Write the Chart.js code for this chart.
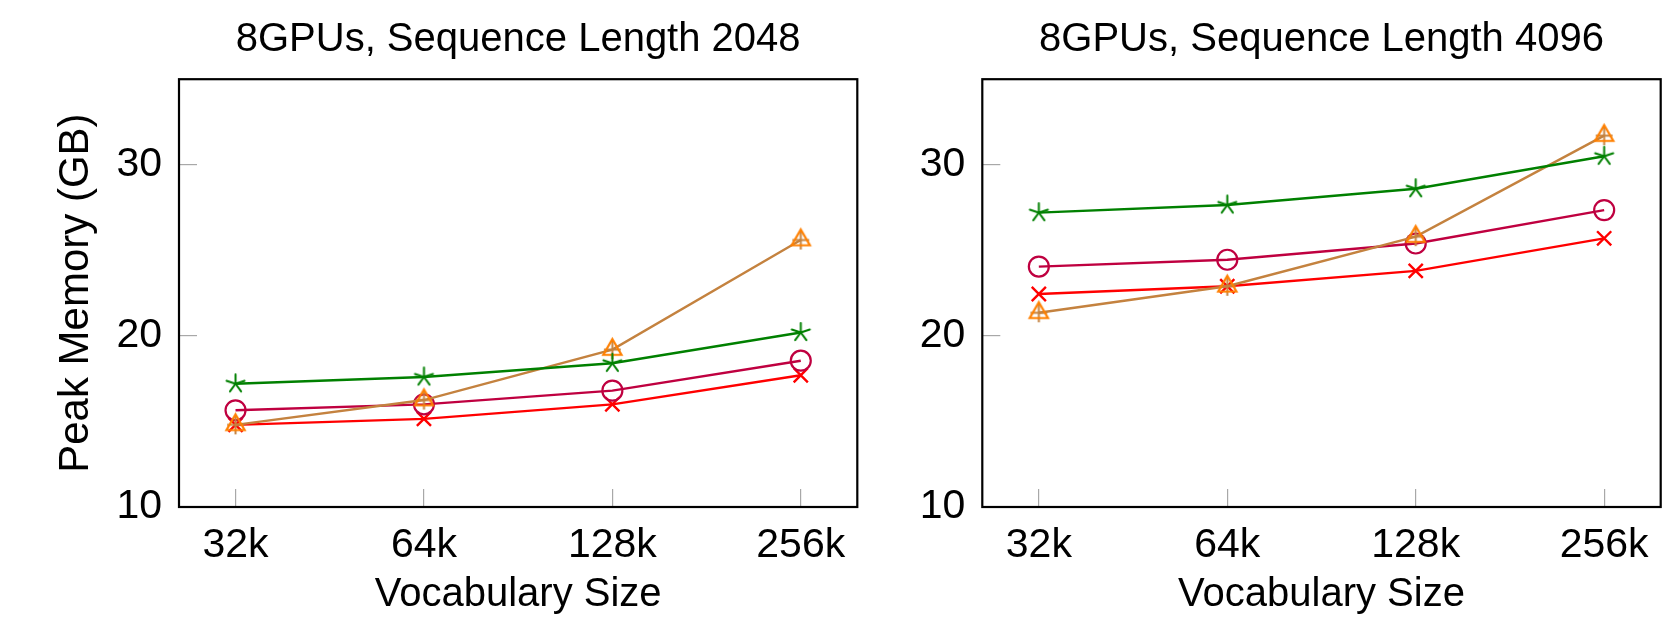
<!DOCTYPE html>
<html>
<head>
<meta charset="utf-8">
<title>Peak Memory vs Vocabulary Size</title>
<script src="https://cdn.jsdelivr.net/npm/chart.js@4/dist/chart.umd.min.js"></script>
<style>
    html, body { margin: 0; padding: 0; background: #ffffff; }
    #wrap { position: relative; width: 1663px; height: 627px; overflow: hidden; }
    .panel { position: absolute; top: 0; height: 627px; }
    #left-panel { left: 0; width: 870px; }
    #right-panel { left: 870px; width: 793px; }
</style>
</head>
<body>
<div id="wrap">
    <div class="panel" id="left-panel"><canvas id="chart-2048" width="870" height="627"></canvas></div>
    <div class="panel" id="right-panel"><canvas id="chart-4096" width="793" height="627"></canvas></div>
</div>
<script>
// === Data ===

const vocabSizes = ['32k', '64k', '128k', '256k'];
const yTicks = [10, 20, 30];

// Sequence length 2048
const green2048 = [17.2, 17.6, 18.4, 20.2];
const orange2048 = [14.8, 16.25, 19.2, 25.6];
const purple2048 = [15.65, 16.0, 16.8, 18.55];
const red2048 = [14.8, 15.15, 16.0, 17.7];

// Sequence length 4096
const green4096 = [27.2, 27.65, 28.6, 30.5];
const orange4096 = [21.35, 22.9, 25.8, 31.7];
const purple4096 = [24.05, 24.45, 25.4, 27.35];
const red4096 = [22.45, 22.9, 23.8, 25.7];

// === Style ===

const FONT = "'Liberation Sans', Arial, sans-serif";
const GREEN = '#008000';
const PURPLE = '#bf0040';
const RED = '#ff0000';
const BROWN = '#c4823f';
const ORANGE = '#ff8000';
const TICK_GRAY = '#a8a8a8';

// === Markers ===

function makeStar(color, r) {
    const size = 2 * r + 4;
    const c = document.createElement('canvas');
    c.width = size;
    c.height = size;
    const ctx = c.getContext('2d');
    ctx.strokeStyle = color;
    ctx.lineWidth = 2;
    ctx.lineCap = 'round';
    const cx = size / 2, cy = size / 2;
    for (let k = 0; k < 5; k++) {
        const a = -Math.PI / 2 + k * 2 * Math.PI / 5;
        ctx.beginPath();
        ctx.moveTo(cx, cy);
        ctx.lineTo(cx + r * Math.cos(a), cy + r * Math.sin(a));
        ctx.stroke();
    }
    return c;
}

function makeTrianglePlus(triColor, plusColor, r) {
    const size = 2 * r + 6;
    const c = document.createElement('canvas');
    c.width = size;
    c.height = size;
    const ctx = c.getContext('2d');
    const cx = size / 2, cy = size / 2;
    // plus
    ctx.strokeStyle = plusColor;
    ctx.lineWidth = 2;
    ctx.beginPath();
    ctx.moveTo(cx - r * 0.8, cy);
    ctx.lineTo(cx + r * 0.8, cy);
    ctx.moveTo(cx, cy - r * 0.8);
    ctx.lineTo(cx, cy + r * 0.9);
    ctx.stroke();
    // triangle
    ctx.strokeStyle = triColor;
    ctx.lineWidth = 2.2;
    ctx.beginPath();
    ctx.moveTo(cx, cy - r);
    ctx.lineTo(cx + 0.866 * r, cy + 0.5 * r);
    ctx.lineTo(cx - 0.866 * r, cy + 0.5 * r);
    ctx.closePath();
    ctx.stroke();
    return c;
}

const starMark = makeStar(GREEN, 9.5);
const triMark = makeTrianglePlus(ORANGE, BROWN, 10.5);

// === Helpers ===

function toPoints(values) {
    return values.map((v, i) => ({ x: i, y: v }));
}

function buildDatasets(green, orange, purple, red) {
    return [
        {
            data: toPoints(green),
            borderColor: GREEN,
            borderWidth: 2.4,
            pointStyle: starMark,
            pointRadius: 9
        },
        {
            data: toPoints(orange),
            borderColor: BROWN,
            borderWidth: 2.4,
            pointStyle: triMark,
            pointRadius: 10
        },
        {
            data: toPoints(purple),
            borderColor: PURPLE,
            borderWidth: 2.4,
            pointStyle: 'circle',
            pointRadius: 10,
            pointBorderWidth: 2.2,
            pointBorderColor: PURPLE,
            pointBackgroundColor: 'rgba(0,0,0,0)'
        },
        {
            data: toPoints(red),
            borderColor: RED,
            borderWidth: 2.4,
            pointStyle: 'crossRot',
            pointRadius: 10,
            pointBorderWidth: 2.4,
            pointBorderColor: RED
        }
    ];
}

// black box round the plot area
const framePlugin = {
    id: 'frame',
    afterDatasetsDraw(chart) {
        const { ctx, chartArea } = chart;
        ctx.save();
        ctx.strokeStyle = '#000000';
        ctx.lineWidth = 2.2;
        ctx.strokeRect(chartArea.left, chartArea.top,
            chartArea.right - chartArea.left, chartArea.bottom - chartArea.top);
        ctx.restore();
    }
};

// keep the label overhang from shrinking the plot box
function noScalePadding(s) {
    s.paddingLeft = 0;
    s.paddingRight = 0;
    s.paddingTop = 0;
    s.paddingBottom = 0;
}

function makeChart(canvasId, title, datasets, yAxisWidth, padRight, showYTitle) {
    const ctx = document.getElementById(canvasId).getContext('2d');
    return new Chart(ctx, {
        type: 'line',
        data: { datasets },
        plugins: [framePlugin],
        options: {
            responsive: false,
            animation: false,
            events: [],
            layout: {
                autoPadding: false,
                padding: { left: 0, right: padRight, top: 0, bottom: 0 }
            },
            elements: { line: { tension: 0, fill: false } },
            plugins: {
                legend: { display: false },
                tooltip: { enabled: false },
                title: {
                    display: true,
                    text: title,
                    fullSize: false,
                    color: '#000000',
                    font: { family: FONT, size: 40, weight: 'normal' },
                    padding: { top: 15.6, bottom: 15.6 }
                }
            },
            scales: {
                x: {
                    type: 'linear',
                    min: -0.3,
                    max: 3.3,
                    afterBuildTicks: s => { s.ticks = vocabSizes.map((_, i) => ({ value: i })); },
                    afterFit: s => { s.height = 120; noScalePadding(s); },
                    ticks: {
                        callback: v => vocabSizes[v],
                        color: '#000000',
                        font: { family: FONT, size: 41 },
                        padding: 32,
                        autoSkip: false,
                        maxRotation: 0
                    },
                    grid: {
                        drawOnChartArea: false,
                        drawTicks: true,
                        tickLength: -18,
                        color: TICK_GRAY,
                        lineWidth: 1.2
                    },
                    border: { display: false },
                    title: {
                        display: true,
                        text: 'Vocabulary Size',
                        color: '#000000',
                        font: { family: FONT, size: 40 },
                        padding: { top: 0, bottom: 8 }
                    }
                },
                y: {
                    type: 'linear',
                    min: 10,
                    max: 35,
                    afterBuildTicks: s => { s.ticks = yTicks.map(v => ({ value: v })); },
                    afterFit: s => { s.width = yAxisWidth; noScalePadding(s); },
                    ticks: {
                        color: '#000000',
                        font: { family: FONT, size: 41 },
                        padding: 35
                    },
                    grid: {
                        drawOnChartArea: false,
                        drawTicks: true,
                        tickLength: -18,
                        color: TICK_GRAY,
                        lineWidth: 1.2
                    },
                    border: { display: false },
                    title: {
                        display: showYTitle,
                        text: 'Peak Memory (GB)',
                        color: '#000000',
                        font: { family: FONT, size: 42 },
                        padding: { top: 50.8, bottom: 0 }
                    }
                }
            }
        }
    });
}

makeChart('chart-2048', '8GPUs, Sequence Length 2048',
    buildDatasets(green2048, orange2048, purple2048, red2048), 179, 12.7, true);

makeChart('chart-4096', '8GPUs, Sequence Length 4096',
    buildDatasets(green4096, orange4096, purple4096, red4096), 112.3, 2.3, false);
</script>
</body>
</html>
